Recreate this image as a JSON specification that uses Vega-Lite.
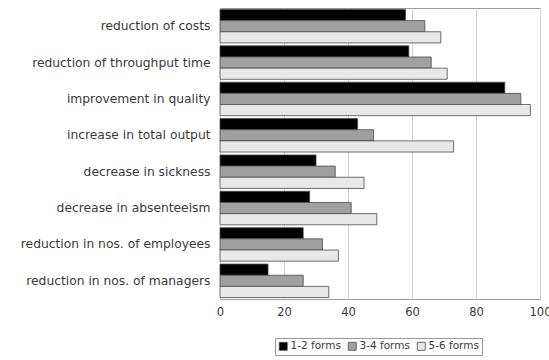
{
  "$schema": "https://vega.github.io/schema/vega-lite/v6.json",
  "autosize": "none",
  "width": 320,
  "height": 291,
  "padding": {"left": 220, "top": 8, "right": 9, "bottom": 61},
  "background": "white",
  "config": {
    "font": "DejaVu Sans",
    "view": {"stroke": "#9a9a9a", "strokeWidth": 1}
  },
  "data": {
    "values": [
      {"effect": "reduction of costs", "group": "1-2 forms", "pct": 58},
      {"effect": "reduction of costs", "group": "3-4 forms", "pct": 64},
      {"effect": "reduction of costs", "group": "5-6 forms", "pct": 69},
      {"effect": "reduction of throughput time", "group": "1-2 forms", "pct": 59},
      {"effect": "reduction of throughput time", "group": "3-4 forms", "pct": 66},
      {"effect": "reduction of throughput time", "group": "5-6 forms", "pct": 71},
      {"effect": "improvement in quality", "group": "1-2 forms", "pct": 89},
      {"effect": "improvement in quality", "group": "3-4 forms", "pct": 94},
      {"effect": "improvement in quality", "group": "5-6 forms", "pct": 97},
      {"effect": "increase in total output", "group": "1-2 forms", "pct": 43},
      {"effect": "increase in total output", "group": "3-4 forms", "pct": 48},
      {"effect": "increase in total output", "group": "5-6 forms", "pct": 73},
      {"effect": "decrease in sickness", "group": "1-2 forms", "pct": 30},
      {"effect": "decrease in sickness", "group": "3-4 forms", "pct": 36},
      {"effect": "decrease in sickness", "group": "5-6 forms", "pct": 45},
      {"effect": "decrease in absenteeism", "group": "1-2 forms", "pct": 28},
      {"effect": "decrease in absenteeism", "group": "3-4 forms", "pct": 41},
      {"effect": "decrease in absenteeism", "group": "5-6 forms", "pct": 49},
      {"effect": "reduction in nos. of  employees", "group": "1-2 forms", "pct": 26},
      {"effect": "reduction in nos. of  employees", "group": "3-4 forms", "pct": 32},
      {"effect": "reduction in nos. of  employees", "group": "5-6 forms", "pct": 37},
      {"effect": "reduction in nos. of managers", "group": "1-2 forms", "pct": 15},
      {"effect": "reduction in nos. of managers", "group": "3-4 forms", "pct": 26},
      {"effect": "reduction in nos. of managers", "group": "5-6 forms", "pct": 34}
    ]
  },
  "mark": {"type": "bar", "stroke": "#4a4a4a", "strokeWidth": 0.8},
  "encoding": {
    "y": {
      "field": "effect",
      "type": "nominal",
      "sort": null,
      "scale": {"paddingInner": 0.08, "paddingOuter": 0.04},
      "axis": {
        "title": null,
        "domain": false,
        "ticks": false,
        "labelPadding": 10,
        "labelFontSize": 12.3,
        "labelColor": "#3a3a3a",
        "labelLimit": 220
      }
    },
    "yOffset": {"field": "group", "type": "nominal", "scale": {"paddingInner": 0}},
    "x": {
      "field": "pct",
      "type": "quantitative",
      "scale": {"domain": [0, 100]},
      "axis": {
        "title": null,
        "values": [0, 20, 40, 60, 80, 100],
        "domain": false,
        "ticks": false,
        "labelPadding": 7,
        "labelFontSize": 11.5,
        "labelColor": "#3a3a3a",
        "gridColor": "#d4d4d4",
        "labelFlush": false
      }
    },
    "fill": {
      "field": "group",
      "type": "nominal",
      "scale": {
        "domain": ["1-2 forms", "3-4 forms", "5-6 forms"],
        "range": ["#000000", "#a0a0a0", "#e8e8e8"]
      },
      "legend": {
        "title": null,
        "orient": "none",
        "direction": "horizontal",
        "legendX": 55,
        "legendY": 330,
        "symbolType": "square",
        "symbolSize": 64,
        "symbolStrokeColor": "#4a4a4a",
        "symbolStrokeWidth": 0.8,
        "labelFontSize": 10.5,
        "labelColor": "#3a3a3a",
        "columnPadding": 5,
        "labelOffset": 2,
        "padding": 3,
        "strokeColor": "#9a9a9a"
      }
    }
  }
}
